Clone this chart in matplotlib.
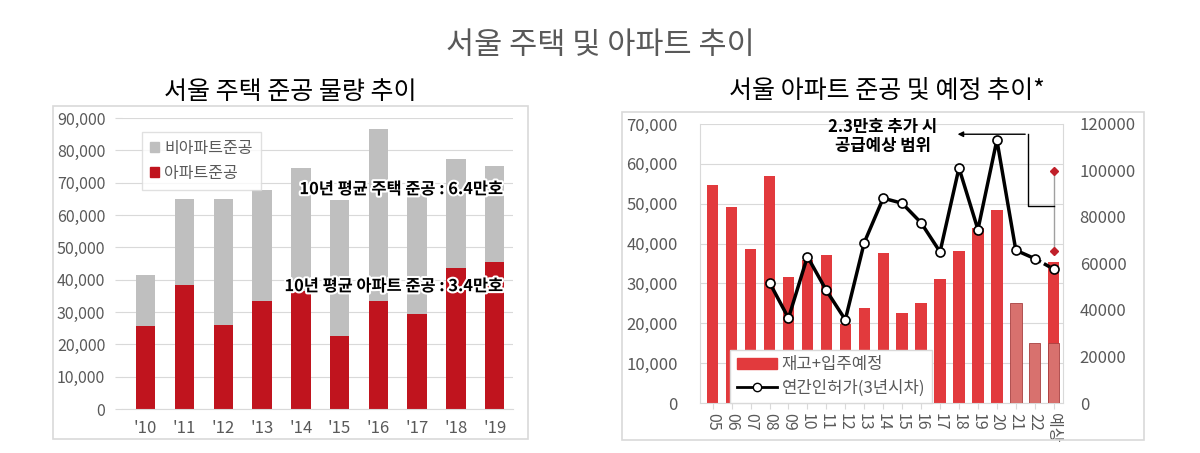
import matplotlib
matplotlib.use("Agg")
import matplotlib.pyplot as plt
import matplotlib.patheffects as pe
import numpy as np
from matplotlib.patches import Rectangle, Patch
from matplotlib.lines import Line2D
from matplotlib.ticker import FuncFormatter

plt.rcParams['font.family'] = ['Noto Sans CJK KR', 'DejaVu Sans']

# left chart: Seoul housing completions
years_left = ["'10", "'11", "'12", "'13", "'14", "'15", "'16", "'17", "'18", "'19"]
total_done = [41500, 64900, 64900, 67600, 74600, 64500, 86600, 66500, 77300, 75200]
apt_done = [25700, 38400, 26000, 33400, 36500, 22500, 33400, 29500, 43600, 45500]

# right chart: Seoul apartment completions and plans
years_right = ['05', '06', '07', '08', '09', '10', '11', '12', '13', '14',
               '15', '16', '17', '18', '19', '20', '21', '22', '예상']
stock = [54700, 49300, 38600, 57000, 31700, 36000, 37200, 19900, 23800, 37700,
         22600, 25100, 31000, 38100, 43900, 48500, np.nan, np.nan, 35400]
planned = [np.nan] * 16 + [25200, 15000, 15000]
permits = [np.nan, np.nan, np.nan, 51800, 36500, 63000, 48400, 35800, 69000, 88100,
           85900, 77500, 65000, 101100, 74600, 113100, 65700, 62100, 57600]
range_low = 65400
range_high = 99800

GRAY_TXT = '#595959'
GRID = '#D9D9D9'
RED_L = '#C0141E'
GRAY_BAR = '#BFBFBF'
RED_R = '#E23A3D'
RED_LIGHT = '#D8716E'

fig = plt.figure(figsize=(12, 4.53), dpi=100)

fig.text(0.5, 1 - 45 / 453, '서울 주택 및 아파트 추이', ha='center', va='center',
         fontsize=22, color=GRAY_TXT)
fig.text(290 / 1200, 1 - 92 / 453, '서울 주택 준공 물량 추이', ha='center', va='center',
         fontsize=18, color='black')
fig.text(887 / 1200, 1 - 92 / 453, '서울 아파트 준공 및 예정 추이*', ha='center', va='center',
         fontsize=18, color='black')

# panel frames
for x0, y0, x1, y1 in [(53, 106, 528, 439), (622, 112, 1144, 440)]:
    fig.patches.append(Rectangle((x0 / 1200, 1 - y1 / 453), (x1 - x0) / 1200, (y1 - y0) / 453,
                                 transform=fig.transFigure, fill=False, edgecolor=GRID, lw=1.2))

comma = FuncFormatter(lambda v, p: f'{int(v):,}')

# ---------------- left chart
ax = fig.add_axes([122 / 1200, 1 - 409 / 453, 391 / 1200, 291 / 453])
x = np.arange(len(years_left))
non_apt = np.array(total_done) - np.array(apt_done)
ax.bar(x, apt_done, width=0.5, color=RED_L, zorder=2)
ax.bar(x, non_apt, width=0.5, bottom=apt_done, color=GRAY_BAR, zorder=2)
ax.set_xlim(-0.61, 9.47)
ax.set_ylim(0, 90000)
ax.set_yticks(np.arange(0, 90001, 10000))
ax.yaxis.set_major_formatter(comma)
ax.set_xticks(x)
ax.set_xticklabels(years_left)
ax.grid(axis='y', color=GRID, lw=0.8, zorder=0)
for s in ['top', 'right', 'left']:
    ax.spines[s].set_visible(False)
ax.spines['bottom'].set_color(GRID)
ax.tick_params(axis='y', length=5, color=GRID, labelsize=11.5, labelcolor=GRAY_TXT, pad=7)
ax.tick_params(axis='x', length=0, labelsize=12, labelcolor=GRAY_TXT, pad=8)
leg = ax.legend(handles=[Patch(color=GRAY_BAR, label='비아파트준공'),
                         Patch(color=RED_L, label='아파트준공')],
                loc='upper left', bbox_to_anchor=(0.03, 0.98), fontsize=11.5,
                handlelength=0.6, handleheight=0.6, handletextpad=0.3,
                fancybox=False, edgecolor=GRID, labelcolor=GRAY_TXT, borderpad=0.5)
halo = [pe.withStroke(linewidth=3, foreground='white')]
ax.text(9.23, 68000, '10년 평균 주택 준공 : 6.4만호', ha='right', va='center',
        fontsize=11.8, fontweight='bold', path_effects=halo, zorder=5)
ax.text(9.23, 38000, '10년 평균 아파트 준공 : 3.4만호', ha='right', va='center',
        fontsize=11.8, fontweight='bold', path_effects=halo, zorder=5)

# ---------------- right chart
ax1 = fig.add_axes([700 / 1200, 1 - 403 / 453, 363 / 1200, 279 / 453])
xr = np.arange(len(years_right))
ax1.bar(xr, stock, width=0.6, color=RED_R, zorder=2)
ax1.bar(xr, planned, width=0.6, color=RED_LIGHT, edgecolor='#A84040', lw=0.6, zorder=3)
ax1.set_xlim(-0.67, 18.49)
ax1.set_ylim(0, 70000)
ax1.set_yticks(np.arange(0, 70001, 10000))
ax1.yaxis.set_major_formatter(comma)
ax1.set_xticks(xr)
ax1.set_xticklabels(years_right, rotation=270, ha='center', va='top')
ax1.grid(axis='y', color=GRID, lw=0.8, zorder=0)
ax1.spines['top'].set_visible(False)
for s in ['bottom', 'left', 'right']:
    ax1.spines[s].set_color(GRID)
ax1.tick_params(axis='y', length=0, labelsize=12, labelcolor=GRAY_TXT, pad=16)
ax1.tick_params(axis='x', length=4, color=GRID, labelsize=11.5, labelcolor=GRAY_TXT, pad=3)

ax2 = ax1.twinx()
ax2.set_ylim(0, 120000)
ax2.set_yticks(np.arange(0, 120001, 20000))
ax2.tick_params(axis='y', length=0, labelsize=12, labelcolor=GRAY_TXT, pad=12)
for s in ax2.spines.values():
    s.set_visible(False)
perm = np.array(permits, dtype=float)
ax2.plot(xr[:-1], perm[:-1], color='black', lw=2.5, zorder=4)
ax2.plot(xr[-2:], perm[-2:], color='black', lw=2.5, ls=(0, (2, 1)), zorder=4)
ax2.plot(xr, perm, ls='none', marker='o', ms=6.5, mfc='white', mec='black', mew=1.2, zorder=5)

# supply range marker on the forecast bar
ax2.plot([xr[-1], xr[-1]], [range_low, range_high], color='#A0A0A0', lw=1, zorder=3)
ax2.plot([xr[-1], xr[-1]], [range_low, range_high], ls='none', marker='D', ms=4.5,
         color='#C0202A', zorder=4)
ax2.plot([xr[-1], 16.64, 16.64], [84800, 84800, 115600], color='black', lw=1, zorder=4)
ax2.annotate('', xy=(12.78, 115600), xytext=(16.64, 115600),
             arrowprops=dict(arrowstyle='-|>', color='black', lw=1, mutation_scale=8), zorder=4)
ax2.text(8.97, 114500, '2.3만호 추가 시\n공급예상 범위', ha='center', va='center',
         fontsize=12, fontweight='bold', linespacing=1.1, zorder=5)

ax2.legend(handles=[Patch(color=RED_R, label='재고+입주예정'),
                    Line2D([], [], color='black', lw=2, marker='o', mfc='white', mec='black',
                           ms=6, label='연간인허가(3년시차)')],
           loc='lower left', bbox_to_anchor=(0.083, 0.0), borderaxespad=0, fontsize=12,
           handlelength=2.4, handleheight=0.6, handletextpad=0.3, fancybox=False,
           edgecolor=GRID, framealpha=1, labelcolor=GRAY_TXT, borderpad=0.4,
           labelspacing=0.35).set_zorder(10)

fig.savefig('out.png', dpi=100, facecolor='white')
